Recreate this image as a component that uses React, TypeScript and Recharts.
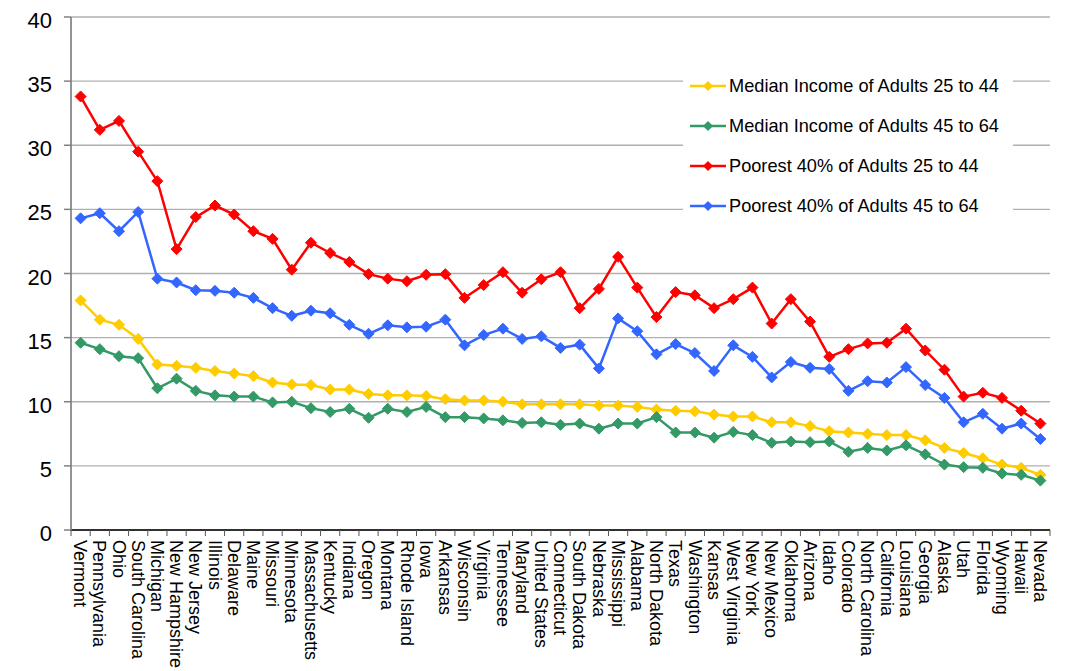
import React from "react";
import { LineChart, Line, XAxis, YAxis, CartesianGrid, Legend } from "recharts";

const states = [
  "Vermont", "Pennsylvania", "Ohio", "South Carolina", "Michigan", "New Hampshire", "New Jersey", "Illinois",
  "Delaware", "Maine", "Missouri", "Minnesota", "Massachusetts", "Kentucky", "Indiana", "Oregon", "Montana",
  "Rhode Island", "Iowa", "Arkansas", "Wisconsin", "Virginia", "Tennessee", "Maryland", "United States",
  "Connecticut", "South Dakota", "Nebraska", "Mississippi", "Alabama", "North Dakota", "Texas", "Washington",
  "Kansas", "West Virginia", "New York", "New Mexico", "Oklahoma", "Arizona", "Idaho", "Colorado",
  "North Carolina", "California", "Louisiana", "Georgia", "Alaska", "Utah", "Florida", "Wyoming", "Hawaii", "Nevada",
];

const median2544 = [
  17.9, 16.4, 16.0, 14.9, 12.9, 12.8, 12.65, 12.4, 12.2, 12.0,
  11.5, 11.35, 11.3, 10.95, 10.95, 10.6, 10.5, 10.5, 10.45, 10.2,
  10.1, 10.1, 10.0, 9.8, 9.8, 9.8, 9.8, 9.7, 9.7, 9.6,
  9.4, 9.3, 9.25, 9.0, 8.85, 8.85, 8.4, 8.4, 8.1, 7.7,
  7.6, 7.5, 7.4, 7.4, 7.0, 6.4, 6.0, 5.6, 5.1, 4.85, 4.3,
];

const median4564 = [
  14.6, 14.1, 13.55, 13.4, 11.05, 11.8, 10.85, 10.5, 10.4, 10.4,
  9.95, 10.0, 9.5, 9.2, 9.45, 8.75, 9.45, 9.2, 9.6, 8.8,
  8.8, 8.7, 8.55, 8.35, 8.4, 8.2, 8.3, 7.9, 8.3, 8.3,
  8.8, 7.6, 7.6, 7.2, 7.65, 7.4, 6.8, 6.9, 6.85, 6.9,
  6.1, 6.4, 6.2, 6.6, 5.9, 5.1, 4.9, 4.85, 4.4, 4.3, 3.85,
];

const poorest2544 = [
  33.8, 31.2, 31.9, 29.5, 27.2, 21.9, 24.4, 25.3, 24.6, 23.3,
  22.7, 20.3, 22.4, 21.6, 20.9, 19.95, 19.6, 19.4, 19.9, 19.95,
  18.1, 19.1, 20.1, 18.5, 19.55, 20.1, 17.3, 18.8, 21.3, 18.9,
  16.6, 18.55, 18.3, 17.3, 18.0, 18.9, 16.1, 18.0, 16.25, 13.5,
  14.1, 14.55, 14.6, 15.7, 14.0, 12.5, 10.4, 10.7, 10.3, 9.3, 8.3,
];

const poorest4564 = [
  24.3, 24.7, 23.3, 24.8, 19.6, 19.3, 18.7, 18.65, 18.5, 18.1,
  17.3, 16.7, 17.1, 16.9, 16.0, 15.3, 15.96, 15.8, 15.85, 16.4,
  14.4, 15.2, 15.7, 14.9, 15.1, 14.2, 14.45, 12.6, 16.5, 15.5,
  13.7, 14.5, 13.8, 12.4, 14.4, 13.5, 11.9, 13.1, 12.65, 12.55,
  10.85, 11.6, 11.5, 12.7, 11.3, 10.3, 8.4, 9.06, 7.9, 8.3, 7.1,
];

const yTicks = [0, 5, 10, 15, 20, 25, 30, 35, 40];

const series = [
  { key: "m2544", name: "Median Income of Adults 25 to 44", color: "#FFCC00" },
  { key: "m4564", name: "Median Income of Adults 45 to 64", color: "#339966" },
  { key: "p2544", name: "Poorest 40% of Adults 25 to 44", color: "#FF0000" },
  { key: "p4564", name: "Poorest 40% of Adults 45 to 64", color: "#3366FF" },
];

const data = states.map((s, i) => ({
  state: s,
  m2544: median2544[i],
  m4564: median4564[i],
  p2544: poorest2544[i],
  p4564: poorest4564[i],
}));

const W = 1065;
const H = 671;
const PLOT_W = 979;
const STEP = PLOT_W / states.length;
const FONT = "'Liberation Sans', Arial, sans-serif";

function diamond(color: string, size: number) {
  return (props: any) => {
    const { cx, cy, index } = props;
    if (cx == null || cy == null) return <g key={index} />;
    const s = size;
    return (
      <polygon
        key={index}
        points={`${cx},${cy - s} ${cx + s},${cy} ${cx},${cy + s} ${cx - s},${cy}`}
        fill={color}
        stroke={color}
        strokeWidth={1}
      />
    );
  };
}

function XTick(props: any) {
  const { x, y, payload, index } = props;
  const axisY = y - 8;
  const last = index === states.length - 1;
  return (
    <g>
      <line x1={x - STEP / 2} x2={x - STEP / 2} y1={axisY} y2={axisY + 6} stroke="#555" />
      {last && <line x1={x + STEP / 2} x2={x + STEP / 2} y1={axisY} y2={axisY + 6} stroke="#555" />}
      <text
        x={x}
        y={axisY + 10}
        dy="0.35em"
        transform={`rotate(90, ${x}, ${axisY + 10})`}
        textAnchor="start"
        fontSize={18}
        fontFamily={FONT}
        fill="#000"
      >
        {payload.value}
      </text>
    </g>
  );
}

function YTick(props: any) {
  const { x, y, payload } = props;
  return (
    <text x={x} y={y + 11} textAnchor="end" fontSize={22} fontFamily={FONT} fill="#000">
      {payload.value}
    </text>
  );
}

function LegendBox() {
  return (
    <div style={{ background: "#fff", width: 330, height: 166, boxSizing: "border-box", paddingTop: 4, paddingLeft: 7 }}>
      {series.map((s) => (
        <div key={s.key} style={{ height: 40, display: "flex", alignItems: "center", fontFamily: FONT, fontSize: 18.2, color: "#000" }}>
          <svg width={36} height={12} style={{ marginRight: 3 }}>
            <line x1={0} x2={36} y1={6} y2={6} stroke={s.color} strokeWidth={2.5} />
            <polygon points="18,1 23,6 18,11 13,6" fill={s.color} />
          </svg>
          <span style={{ whiteSpace: "nowrap" }}>{s.name}</span>
        </div>
      ))}
    </div>
  );
}

export default function App() {
  return (
    <div style={{ position: "absolute", left: 0, top: 0, width: W, height: H, background: "#fff", overflow: "hidden" }}>
      <LineChart width={W} height={H} data={data} margin={{ top: 17, right: 15, left: 0, bottom: 0 }}>
        <CartesianGrid vertical={false} stroke="#b0b0b0" strokeWidth={1.3} />
        <XAxis
          dataKey="state"
          interval={0}
          height={141}
          padding={{ left: STEP / 2, right: STEP / 2 }}
          tickLine={false}
          tickSize={6}
          tickMargin={2}
          axisLine={{ stroke: "#000", strokeWidth: 1.3 }}
          tick={<XTick />}
        />
        <YAxis
          width={71}
          domain={[0, 40]}
          ticks={yTicks}
          interval={0}
          tickSize={7}
          tickMargin={12}
          tickLine={{ stroke: "#808080", strokeWidth: 1.5 }}
          axisLine={{ stroke: "#808080", strokeWidth: 1.7 }}
          tick={<YTick />}
        />
        <Legend
          layout="vertical"
          align="center"
          verticalAlign="middle"
          wrapperStyle={{ left: 683, top: 62, width: 330, height: 166 }}
          content={() => <LegendBox />}
        />
        {series.map((s) => (
          <Line
            key={s.key}
            dataKey={s.key}
            name={s.name}
            type="linear"
            stroke={s.color}
            strokeWidth={2.5}
            dot={diamond(s.color, 5.5)}
            activeDot={false}
            isAnimationActive={false}
          />
        ))}
      </LineChart>
    </div>
  );
}
